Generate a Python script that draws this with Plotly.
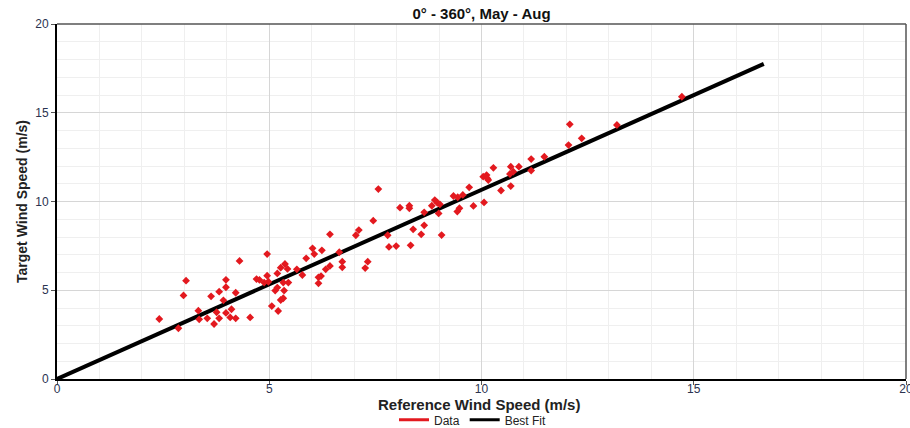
import plotly.graph_objects as go

# Data points (Reference vs Target wind speed, m/s)
ref_ws = [2.41, 2.86, 3.04, 2.98, 3.33, 3.35, 3.54, 3.63, 3.70, 3.76, 3.82, 3.82, 3.92, 3.98, 3.98,
          3.98, 4.08, 4.11, 4.21, 4.21, 4.30, 4.55, 4.95, 4.70, 4.77, 4.95, 4.88, 4.98, 5.19, 5.06,
          5.21, 5.14, 5.19, 5.27, 5.33, 5.35, 5.27, 5.37, 5.43, 5.33, 5.45,
          5.65, 5.78, 5.87, 6.02, 6.06, 6.24, 6.16, 6.22, 6.16, 6.33, 6.43, 6.43, 6.65, 6.72, 6.72,
          7.04, 7.11, 7.26, 7.32, 7.45, 7.57, 7.79, 7.82, 7.99, 8.08, 8.30, 8.30, 8.33, 8.39, 8.58,
          8.65, 8.65, 8.83, 8.90, 8.96, 8.99, 9.06, 9.02,
          9.34, 9.44, 9.43, 9.48, 9.56, 9.71, 9.81, 10.06, 10.04, 10.12, 10.16, 10.14, 10.28, 10.46,
          10.67, 10.75, 10.69, 10.88, 10.69, 11.17, 11.17, 11.48, 12.05, 12.08, 12.36, 13.19, 14.72]
target_ws = [3.38, 2.86, 5.54, 4.71, 3.85, 3.36, 3.42, 4.66, 3.10, 3.76, 3.42, 4.92, 4.43, 5.59, 5.17,
             3.72, 3.47, 3.93, 3.42, 4.86, 6.65, 3.47, 7.04, 5.63, 5.58, 5.82, 5.43, 5.48, 5.95, 4.11,
             3.83, 4.98, 5.15, 4.45, 4.55, 4.98, 6.27, 6.48, 6.20, 5.43, 5.43,
             6.18, 5.86, 6.80, 7.36, 7.04, 7.25, 5.73, 5.80, 5.39, 6.18, 6.37, 8.15, 7.14, 6.61, 6.29,
             8.10, 8.39, 6.25, 6.61, 8.92, 10.70, 8.10, 7.44, 7.49, 9.65, 9.76, 9.62, 7.53, 8.43, 8.15,
             8.66, 9.39, 9.76, 10.08, 9.93, 9.33, 8.11, 9.84,
             10.31, 10.24, 9.43, 9.62, 10.37, 10.80, 9.75, 9.95, 11.40, 11.49, 11.21, 11.30, 11.90, 10.62,
             11.55, 11.68, 11.96, 11.96, 10.87, 11.74, 12.39, 12.52, 13.18, 14.35, 13.56, 14.31, 15.90]

# Best-fit line end points
fit_x = [0.0, 16.65]
fit_y = [0.0, 17.75]

title_text = "0° - 360°, May - Aug"
x_title = "Reference Wind Speed (m/s)"
y_title = "Target Wind Speed (m/s)"
tick_vals = [0, 5, 10, 15, 20]

RED = "#e3191f"
TICK_COLOR = "#2b3350"

fig = go.Figure()
fig.add_trace(go.Scatter(x=fit_x, y=fit_y, mode="lines", line=dict(color="black", width=4),
                         showlegend=False, hoverinfo="skip"))
fig.add_trace(go.Scatter(x=ref_ws, y=target_ws, mode="markers",
                         marker=dict(symbol="diamond", size=6, color=RED),
                         name="Data", showlegend=False))
# legend entries
fig.add_trace(go.Scatter(x=[None], y=[None], mode="lines", line=dict(color=RED, width=3), name="Data"))
fig.add_trace(go.Scatter(x=[None], y=[None], mode="lines", line=dict(color="black", width=3), name="Best Fit"))

axis_common = dict(
    range=[0, 20], tickvals=tick_vals, ticks="outside", ticklen=4, tickcolor="#555",
    showgrid=True, gridcolor="#d6d6d6", gridwidth=1,
    minor=dict(dtick=1, showgrid=True, gridcolor="#efefef", gridwidth=1, ticks=""),
    zeroline=False, showline=True, linecolor="black", linewidth=2,
    ticklabeloverflow="allow", automargin=False,
    tickfont=dict(family="Liberation Sans, Arial", size=12, color=TICK_COLOR),
)

fig.update_layout(
    width=910, height=428,
    margin=dict(l=57, r=4, t=24, b=49, autoexpand=False),
    paper_bgcolor="white", plot_bgcolor="white",
    title=dict(text=title_text, x=0.5, xanchor="center", xref="paper", y=0.967, yanchor="middle",
               font=dict(family="Liberation Sans, Arial", size=15, color="#111", weight="bold")),
    xaxis=dict(**axis_common, ticklabelstandoff=-6),
    yaxis=dict(**axis_common,
               title=dict(text=y_title, standoff=4,
                          font=dict(family="Liberation Sans Narrow, Arial Narrow, Liberation Sans", size=14,
                                    color="#222", weight="bold"))),
    annotations=[
        dict(text=x_title, xref="paper", yref="paper", x=0.497, y=-0.072, xanchor="center",
             yanchor="middle", showarrow=False,
             font=dict(family="Liberation Sans, Arial", size=15, color="#222", weight="bold")),
    ],
    legend=dict(orientation="h", x=0.49, xanchor="center", y=-0.115, yanchor="middle",
                font=dict(family="Liberation Sans, Arial", size=12, color="#222"),
                itemwidth=30, bgcolor="rgba(0,0,0,0)"),
    shapes=[
        dict(type="line", xref="paper", yref="paper", x0=0, x1=1, y0=1, y1=1,
             line=dict(color="#555", width=1.5)),
        dict(type="line", xref="paper", yref="paper", x0=1, x1=1, y0=0, y1=1,
             line=dict(color="#555", width=1.5)),
    ],
)

fig.write_html("out.html")
